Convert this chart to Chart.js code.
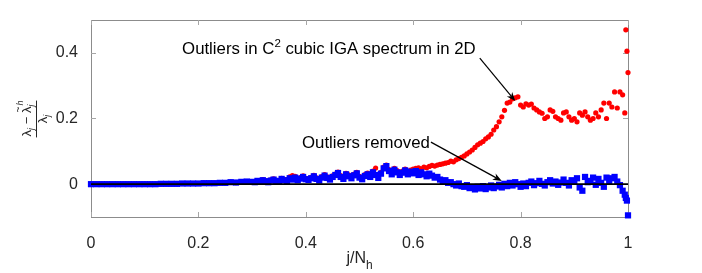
<!DOCTYPE html>
<html lang="en">
<head>
<meta charset="UTF-8">
<title>IGA spectrum outliers</title>
<script src="https://cdn.jsdelivr.net/npm/chart.js"></script>
<style>
  body { margin: 0; background: #fff; }
  #wrap { width: 702px; height: 273px; }
</style>
</head>
<body>
<div id="wrap"><canvas id="spectrum" width="702" height="273"></canvas></div>
<script>
// j/N_h positions shared by both series
const jOverN = [
  0, 0.01, 0.02, 0.03, 0.04, 0.05, 0.06, 0.07, 0.08, 0.09,
  0.10, 0.11, 0.12, 0.13, 0.14, 0.15, 0.16, 0.17, 0.18, 0.19,
  0.20, 0.21, 0.22, 0.23, 0.24, 0.25, 0.26, 0.27, 0.28, 0.29,
  0.30,
  0.305, 0.31, 0.315, 0.32, 0.325, 0.33, 0.335, 0.34, 0.345, 0.35,
  0.355, 0.36, 0.365, 0.37, 0.375, 0.38, 0.385, 0.39, 0.395, 0.40,
  0.405, 0.41, 0.415, 0.42, 0.425, 0.43, 0.435, 0.44, 0.445, 0.45,
  0.455, 0.46, 0.465, 0.47, 0.475, 0.48, 0.485, 0.49, 0.495, 0.50,
  0.505, 0.51, 0.515, 0.52, 0.525, 0.53, 0.535, 0.54, 0.545, 0.55,
  0.555, 0.56, 0.565, 0.57, 0.575, 0.58, 0.585, 0.59, 0.595, 0.60,
  0.605, 0.61, 0.615, 0.62, 0.625, 0.63, 0.635, 0.64, 0.645, 0.65,
  0.655, 0.66, 0.665, 0.67, 0.675, 0.68, 0.685, 0.69, 0.695, 0.70,
  0.705, 0.71, 0.715, 0.72, 0.725, 0.73, 0.735, 0.74, 0.745, 0.75,
  0.755, 0.76, 0.765, 0.77, 0.775, 0.78, 0.785, 0.79, 0.795, 0.80,
  0.805, 0.81, 0.815, 0.82, 0.825, 0.83, 0.835, 0.84, 0.845, 0.85,
  0.855, 0.86, 0.865, 0.87, 0.875, 0.88, 0.885, 0.89, 0.895, 0.90,
  0.905, 0.91, 0.915, 0.92, 0.925, 0.93, 0.935, 0.94, 0.945, 0.95,
  0.955, 0.96, 0.965, 0.97, 0.975, 0.98,
  0.985, 0.99, 0.994, 0.996, 0.998, 1
];

// relative error, full C2 cubic spectrum (red)
const withOutliers = [
  0, 0, 0, 0, 0, 0, 0, 0, 0, 0,
  0, 0, 0, 0.001, 0.001, 0.001, 0.001, 0.002, 0.002, 0.002,
  0.002, 0.003, 0.003, 0.003, 0.004, 0.004, 0.006, 0.005, 0.007, 0.008,
  0.007,
  0.008, 0.011, 0.01, 0.014, 0.011, 0.009, 0.013, 0.016, 0.012, 0.011,
  0.018, 0.015, 0.014, 0.022, 0.026, 0.024, 0.016, 0.02, 0.025, 0.018,
  0.016, 0.021, 0.027, 0.019, 0.015, 0.023, 0.029, 0.022, 0.018, 0.025,
  0.031, 0.037, 0.026, 0.02, 0.033, 0.028, 0.022, 0.031, 0.036, 0.024,
  0.02, 0.029, 0.034, 0.026, 0.04, 0.049, 0.024, 0.036, 0.052, 0.058,
  0.044, 0.036, 0.048, 0.041, 0.034, 0.04, 0.046, 0.038, 0.043, 0.046,
  0.048, 0.05, 0.047, 0.052, 0.05, 0.054, 0.057, 0.055, 0.058, 0.06,
  0.062, 0.064, 0.066, 0.07, 0.068, 0.074, 0.078, 0.082, 0.086, 0.092,
  0.098, 0.104, 0.112, 0.12, 0.125, 0.13, 0.138, 0.144, 0.152, 0.165,
  0.175, 0.19, 0.205, 0.225, 0.247, 0.25, 0.26, 0.263, 0.266, 0.241,
  0.235, 0.245, 0.241, 0.244, 0.232, 0.226, 0.22, 0.216, 0.2, 0.205,
  0.226, 0.222, 0.205, 0.2, 0.195, 0.217, 0.22, 0.205, 0.195, 0.2,
  0.19, 0.217, 0.21, 0.22, 0.205, 0.195, 0.2, 0.217, 0.205, 0.226,
  0.247, 0.2, 0.247, 0.235, 0.281, 0.232,
  0.281, 0.272, 0.217, 0.47, 0.405, 0.34
];

// relative error with outliers removed (blue)
const outliersRemoved = [
  0, 0, 0, 0, 0, 0, 0, 0, 0, 0,
  0, 0, 0, 0.001, 0.001, 0.001, 0.001, 0.002, 0.002, 0.002,
  0.002, 0.003, 0.003, 0.003, 0.004, 0.004, 0.006, 0.005, 0.007, 0.008,
  0.007,
  0.006, 0.01, 0.008, 0.012, 0.009, 0.006, 0.011, 0.014, 0.01, 0.008,
  0.016, 0.012, 0.009, 0.018, 0.014, 0.02, 0.012, 0.017, 0.022, 0.015,
  0.013, 0.018, 0.024, 0.016, 0.011, 0.02, 0.026, 0.019, 0.014, 0.022,
  0.028, 0.034, 0.022, 0.016, 0.03, 0.024, 0.018, 0.027, 0.033, 0.02,
  0.015, 0.025, 0.03, 0.022, 0.036, 0.028, 0.019, 0.032, 0.048, 0.055,
  0.04, 0.03, 0.044, 0.036, 0.028, 0.035, 0.042, 0.03, 0.038, 0.033,
  0.04, 0.028, 0.036, 0.03, 0.024, 0.032, 0.026, 0.02, 0.022, 0.014,
  0.01, 0.012, 0.004, 0.006, 0, -0.004, 0.002, -0.006, -0.008, -0.003,
  -0.012, -0.01, -0.016, -0.008, -0.013, -0.006, -0.015, -0.01, -0.004, -0.012,
  -0.007, -0.002, -0.01, 0.001, -0.006, 0.004, -0.004, 0.006, 0, -0.008,
  0.002, -0.006, 0.004, 0.008, -0.003, 0.003, 0.01, 0.001, -0.004, 0.006,
  0.012, 0.002, 0.008, -0.002, 0.005, 0.014, 0.004, -0.004, 0.012, 0.008,
  0.018, -0.01, -0.02, 0.022, 0.006, 0.01, 0.02, -0.002, 0.016, 0.004,
  -0.008, 0.02, 0.01, 0.018, 0.022, 0.008,
  -0.003, -0.02, -0.032, -0.042, -0.05, -0.095
];

const zeroLineX = [0, 1];
const zeroLineY = [0, 0];
const xTicks = [0, 0.2, 0.4, 0.6, 0.8, 1];
const yTicks = [0, 0.2, 0.4];

// annotations, in data units
const noteFull = { x: 0.443, y: 0.415, tail: [0.724, 0.384], head: [0.79, 0.253] };
const noteRemoved = { text: 'Outliers removed', x: 0.512, y: 0.128, tail: [0.633, 0.128], head: [0.765, 0.01] };

const FONT = "'Liberation Sans', Arial, Helvetica, sans-serif";
const INK = '#262626';

function toPoints(xs, ys) {
  return xs.map((x, i) => ({ x: x, y: ys[i] }));
}

function tickText(v) {
  return String(Math.round(v * 10) / 10);
}

function drawArrow(ctx, x0, y0, x1, y1) {
  const ang = Math.atan2(y1 - y0, x1 - x0);
  const len = 9, half = 3.5;
  const c = Math.cos(ang), s = Math.sin(ang);
  ctx.beginPath();
  ctx.moveTo(x0, y0);
  ctx.lineTo(x1 - c * len * 0.7, y1 - s * len * 0.7);
  ctx.stroke();
  ctx.beginPath();
  ctx.moveTo(x1, y1);
  ctx.lineTo(x1 - len * c + half * s, y1 - len * s - half * c);
  ctx.lineTo(x1 - len * 0.7 * c, y1 - len * 0.7 * s);
  ctx.lineTo(x1 - len * c - half * s, y1 - len * s + half * c);
  ctx.closePath();
  ctx.fill();
}

function drawYTitle(ctx, cx, cy) {
  const big = '13px ' + FONT, small = 'italic 9px ' + FONT;
  ctx.save();
  ctx.translate(cx, cy);
  ctx.rotate(-Math.PI / 2);
  ctx.fillStyle = INK;
  ctx.strokeStyle = INK;
  ctx.textAlign = 'left';
  ctx.textBaseline = 'alphabetic';
  ctx.font = big;
  const wL = ctx.measureText('λ').width;
  const wM = ctx.measureText(' − ').width;
  ctx.font = small;
  const wj = ctx.measureText('j').width;
  const wh = ctx.measureText('h').width;
  const numW = wL + wj + wM + wL + Math.max(wj, wh);
  const nb = -5;
  let px = -numW / 2;
  ctx.font = big; ctx.fillText('λ', px, nb); px += wL;
  ctx.font = small; ctx.fillText('j', px, nb + 3); px += wj;
  ctx.font = big; ctx.fillText(' − ', px, nb); px += wM;
  ctx.fillText('λ', px, nb);
  ctx.font = '10px ' + FONT; ctx.fillText('~', px + 0.5, nb - 9);
  px += wL;
  ctx.font = small; ctx.fillText('j', px, nb + 3); ctx.fillText('h', px + 1, nb - 8);
  ctx.lineWidth = 1;
  ctx.beginPath();
  ctx.moveTo(-numW / 2 - 1, 0.5);
  ctx.lineTo(numW / 2 + 1, 0.5);
  ctx.stroke();
  const denW = wL + wj;
  px = -denW / 2;
  ctx.font = big; ctx.fillText('λ', px, 11); px += wL;
  ctx.font = small; ctx.fillText('j', px, 14);
  ctx.restore();
}

const frameAndNotes = {
  id: 'frameAndNotes',
  beforeDatasetsDraw(chart) {
    const { ctx, chartArea: a, scales: { x, y } } = chart;
    ctx.save();
    ctx.strokeStyle = '#8c8c8c';
    ctx.lineWidth = 1;
    ctx.strokeRect(a.left + 0.5, a.top + 0.5, a.right - a.left, a.bottom - a.top);
    ctx.strokeStyle = '#a6a6a6';
    ctx.beginPath();
    xTicks.forEach(v => {
      const p = Math.round(x.getPixelForValue(v)) + 0.5;
      ctx.moveTo(p, a.bottom); ctx.lineTo(p, a.bottom - 5);
      ctx.moveTo(p, a.top); ctx.lineTo(p, a.top + 5);
    });
    yTicks.forEach(v => {
      const p = Math.round(y.getPixelForValue(v)) + 0.5;
      ctx.moveTo(a.left, p); ctx.lineTo(a.left + 5, p);
      ctx.moveTo(a.right, p); ctx.lineTo(a.right - 5, p);
    });
    ctx.stroke();
    ctx.restore();
  },
  afterDraw(chart) {
    const { ctx, chartArea: a, scales: { x, y } } = chart;
    const X = v => x.getPixelForValue(v), Y = v => y.getPixelForValue(v);
    ctx.save();
    ctx.fillStyle = '#000';
    ctx.strokeStyle = '#000';
    ctx.lineWidth = 1.2;
    ctx.textBaseline = 'alphabetic';
    ctx.textAlign = 'left';

    // "Outliers in C^2 cubic IGA spectrum in 2D"
    const fNote = '16.8px ' + FONT, fSup = '11.5px ' + FONT;
    ctx.font = fNote;
    const p1 = 'Outliers in C', p3 = ' cubic IGA spectrum in 2D';
    const w1 = ctx.measureText(p1).width, w3 = ctx.measureText(p3).width;
    ctx.font = fSup;
    const w2 = ctx.measureText('2').width;
    let tx = X(noteFull.x) - (w1 + w2 + w3) / 2;
    const tb = Y(noteFull.y) + 6;
    ctx.font = fNote; ctx.fillText(p1, tx, tb); tx += w1;
    ctx.font = fSup; ctx.fillText('2', tx, tb - 7); tx += w2;
    ctx.font = fNote; ctx.fillText(p3, tx, tb);
    drawArrow(ctx, X(noteFull.tail[0]), Y(noteFull.tail[1]), X(noteFull.head[0]), Y(noteFull.head[1]));

    // "Outliers removed"
    ctx.font = fNote;
    ctx.textAlign = 'center';
    ctx.fillText(noteRemoved.text, X(noteRemoved.x), Y(noteRemoved.y) + 6);
    drawArrow(ctx, X(noteRemoved.tail[0]), Y(noteRemoved.tail[1]), X(noteRemoved.head[0]), Y(noteRemoved.head[1]));

    // x axis title j/N_h
    ctx.fillStyle = INK;
    ctx.textAlign = 'left';
    ctx.font = '16px ' + FONT;
    const wa = ctx.measureText('j/N').width;
    ctx.font = '12px ' + FONT;
    const wb = ctx.measureText('h').width;
    const sx = (a.left + a.right) / 2 - (wa + wb) / 2;
    ctx.font = '16px ' + FONT; ctx.fillText('j/N', sx, 263);
    ctx.font = '12px ' + FONT; ctx.fillText('h', sx + wa, 269);
    ctx.restore();

    drawYTitle(ctx, 36, 119);
  }
};

const ctx = document.getElementById('spectrum').getContext('2d');
new Chart(ctx, {
  type: 'scatter',
  data: {
    datasets: [
      {
        label: 'zero',
        data: toPoints(zeroLineX, zeroLineY),
        showLine: true,
        borderColor: '#000000',
        borderWidth: 1.6,
        pointRadius: 0,
        order: 0
      },
      {
        label: 'Outliers removed',
        data: toPoints(jOverN, outliersRemoved),
        pointStyle: 'rect',
        pointRadius: 4.4,
        backgroundColor: '#0000ff',
        borderColor: '#0000ff',
        borderWidth: 0,
        clip: false,
        order: 1
      },
      {
        label: 'With outliers',
        data: toPoints(jOverN, withOutliers),
        pointStyle: 'circle',
        pointRadius: 2.6,
        backgroundColor: '#ff0000',
        borderColor: '#ff0000',
        borderWidth: 0,
        clip: false,
        order: 2
      }
    ]
  },
  options: {
    responsive: false,
    animation: false,
    devicePixelRatio: 1,
    layout: { padding: { left: 0, right: 74, top: 20, bottom: 0 } },
    plugins: { legend: { display: false }, tooltip: { enabled: false } },
    scales: {
      x: {
        type: 'linear',
        min: 0,
        max: 1,
        grid: { display: false },
        border: { display: false },
        afterFit: s => { s.height = 56; },
        afterBuildTicks: s => { s.ticks = xTicks.map(v => ({ value: v })); },
        ticks: { color: INK, font: { family: FONT, size: 16 }, padding: 9, maxRotation: 0, autoSkip: false, callback: tickText }
      },
      y: {
        type: 'linear',
        min: -0.1,
        max: 0.5,
        grid: { display: false },
        border: { display: false },
        afterFit: s => { s.width = 91; },
        afterBuildTicks: s => { s.ticks = yTicks.map(v => ({ value: v })); },
        ticks: { color: INK, font: { family: FONT, size: 16 }, padding: 5, callback: tickText }
      }
    }
  },
  plugins: [frameAndNotes]
});
</script>
</body>
</html>
